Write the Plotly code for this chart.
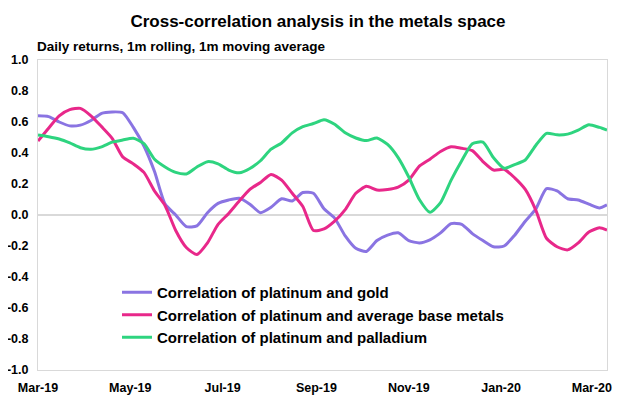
import datetime as dt
import plotly.graph_objects as go

# weekly observation dates starting 2019-03-01, plus final observation
start = dt.date(2019, 3, 1)
dates = [start + dt.timedelta(days=7 * k) for k in range(54)] + [dt.date(2020, 3, 11)]

gold = [0.64, 0.635, 0.60, 0.575, 0.58, 0.61, 0.656, 0.665, 0.66, 0.565,
        0.445, 0.28, 0.07, 0.0, -0.075, -0.07, 0.015, 0.075, 0.097, 0.108,
        0.07, 0.015, 0.05, 0.105, 0.09, 0.145, 0.14, 0.04, -0.02, -0.135,
        -0.215, -0.235, -0.165, -0.13, -0.115, -0.165, -0.18, -0.16, -0.115, -0.056,
        -0.06, -0.12, -0.165, -0.205, -0.2, -0.13, -0.04, 0.04, 0.17, 0.155,
        0.105, 0.097, 0.07, 0.045, 0.065]

base_metals = [0.477, 0.56, 0.64, 0.68, 0.688, 0.64, 0.57, 0.495, 0.375, 0.33,
               0.275, 0.155, 0.06, -0.10, -0.21, -0.255, -0.18, -0.06, 0.01, 0.09,
               0.165, 0.21, 0.262, 0.225, 0.14, 0.055, -0.10, -0.09, -0.04, 0.035,
               0.14, 0.185, 0.161, 0.165, 0.18, 0.225, 0.315, 0.36, 0.41, 0.44,
               0.43, 0.415, 0.345, 0.29, 0.295, 0.24, 0.165, 0.03, -0.15, -0.205,
               -0.225, -0.18, -0.11, -0.083, -0.097]

palladium = [0.516, 0.505, 0.49, 0.465, 0.434, 0.424, 0.44, 0.47, 0.484, 0.495,
             0.46, 0.36, 0.31, 0.275, 0.265, 0.31, 0.344, 0.33, 0.29, 0.272,
             0.30, 0.35, 0.425, 0.465, 0.53, 0.57, 0.59, 0.615, 0.585, 0.53,
             0.497, 0.48, 0.497, 0.455, 0.37, 0.245, 0.10, 0.017, 0.08, 0.225,
             0.35, 0.46, 0.47, 0.37, 0.302, 0.325, 0.355, 0.45, 0.527, 0.517,
             0.522, 0.548, 0.582, 0.565, 0.548]

series_names = ["Correlation of platinum and gold",
                "Correlation of platinum and average base metals",
                "Correlation of platinum and palladium"]
series_colors = ["#8A74E2", "#E8288A", "#2ED47F"]

x_tick_dates = ["2019-03-01", "2019-05-01", "2019-07-01", "2019-09-01",
                "2019-11-01", "2020-01-01", "2020-03-01"]
x_tick_labels = ["Mar-19", "May-19", "Jul-19", "Sep-19", "Nov-19", "Jan-20", "Mar-20"]
y_tick_vals = [1.0, 0.8, 0.6, 0.4, 0.2, 0.0, -0.2, -0.4, -0.6, -0.8, -1.0]
y_tick_labels = ["1.0", "0.8", "0.6", "0.4", "0.2", "0.0", "-0.2", "-0.4", "-0.6", "-0.8", "-1.0"]

FONT = "Liberation Sans, Arial, sans-serif"

fig = go.Figure()
for name, vals, col in zip(series_names, [gold, base_metals, palladium], series_colors):
    fig.add_trace(go.Scatter(x=dates, y=vals, name=name, mode="lines",
                             line=dict(color=col, width=3, shape="spline", smoothing=0.6)))

# page body adds an 8px offset, so the figure is sized to fill the rest of the window
W, H = 632, 389
L, R, T, B = 30, 33, 52, 27
pw, ph = W - L - R, H - T - B

fig.update_layout(
    width=W, height=H,
    margin=dict(l=L, r=R, t=T, b=B, autoexpand=False),
    paper_bgcolor="white", plot_bgcolor="white",
    font=dict(family=FONT, color="black"),
    title=dict(text="<b>Cross-correlation analysis in the metals space</b>",
               x=310 / W, xref="container", xanchor="center",
               y=1 - 13 / H, yref="container", yanchor="middle",
               font=dict(size=17, family=FONT, color="black")),
    showlegend=True,
    legend=dict(x=(109 - L) / pw, y=(H - B - 268) / ph, xanchor="left", yanchor="top",
                bgcolor="rgba(0,0,0,0)", font=dict(size=15, family=FONT, weight="bold"),
                itemwidth=30),
    xaxis=dict(range=["2019-03-01", "2020-03-11"], tickvals=x_tick_dates, ticktext=x_tick_labels,
               showgrid=False, showline=True, mirror=True, linecolor="#d9d9d9", linewidth=1,
               ticks="", tickfont=dict(size=12.5, family=FONT, weight="bold"), zeroline=False,
               automargin=False, ticklabelstandoff=6),
    yaxis=dict(range=[-1, 1], tickvals=y_tick_vals, ticktext=y_tick_labels,
               showgrid=False, showline=True, mirror=True, linecolor="#d9d9d9", linewidth=1,
               zeroline=True, zerolinecolor="#d9d9d9", zerolinewidth=1.5,
               ticks="", tickfont=dict(size=12.5, family=FONT, weight="bold"),
               automargin=False, ticklabelstandoff=6),
    annotations=[dict(text="<b>Daily returns, 1m rolling, 1m moving average</b>",
                      xref="paper", yref="paper", x=(27 - L) / pw, y=(H - B - 39) / ph,
                      xanchor="left", yanchor="middle", showarrow=False,
                      font=dict(size=13.5, family=FONT, color="black"))],
)

fig.write_html("out.html")
